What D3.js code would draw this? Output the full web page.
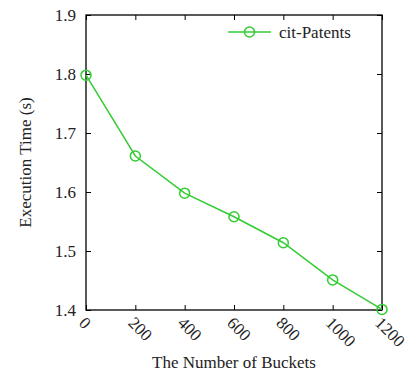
<!DOCTYPE html>
<html>
<head>
<meta charset="utf-8">
<script src="https://cdn.jsdelivr.net/npm/d3@7"></script>
<style>
  body { margin: 0; background: #fff; }
  text { font-family: "Liberation Serif", "DejaVu Serif", serif; fill: #222; }
</style>
</head>
<body>
<div id="plot"></div>
<script>
const WIDTH = 411;
const HEIGHT = 372;

const buckets = [0, 200, 400, 600, 800, 1000, 1200];
const execTime = [1.798, 1.661, 1.598, 1.558, 1.514, 1.451, 1.401];
const yTicks = [1.4, 1.5, 1.6, 1.7, 1.8, 1.9];
const seriesName = 'cit-Patents';

const margin = {left: 86, right: 29, top: 15, bottom: 62};
const innerW = WIDTH - margin.left - margin.right;
const innerH = HEIGHT - margin.top - margin.bottom;
const GREEN = '#33cc33';
const TICK = 5;
const FONT = '17px';

var svg = d3.select('#plot')
    .append('svg')
    .attr('width', WIDTH)
    .attr('height', HEIGHT);

var g = svg.append('g')
    .attr('transform', `translate(${margin.left},${margin.top})`);

let x = d3.scaleLinear().domain([0, 1200]).range([0, innerW]);
let y = d3.scaleLinear().domain([1.4, 1.9]).range([innerH, 0]);

// inward ticks on all four sides
let tickStyle = sel => sel.selectAll('line').attr('stroke', '#000');

g.append('g')
    .attr('transform', `translate(0,${innerH})`)
    .call(d3.axisBottom(x).tickValues(buckets).tickSize(-TICK).tickFormat(''))
    .call(a => a.select('.domain').remove())
    .call(tickStyle);
g.append('g')
    .call(d3.axisTop(x).tickValues(buckets).tickSize(-TICK).tickFormat(''))
    .call(a => a.select('.domain').remove())
    .call(tickStyle);
g.append('g')
    .call(d3.axisLeft(y).tickValues(yTicks).tickSize(-TICK).tickFormat(''))
    .call(a => a.select('.domain').remove())
    .call(tickStyle);
g.append('g')
    .attr('transform', `translate(${innerW},0)`)
    .call(d3.axisRight(y).tickValues(yTicks).tickSize(-TICK).tickFormat(''))
    .call(a => a.select('.domain').remove())
    .call(tickStyle);

// y labels
g.selectAll('.ylab')
    .data(yTicks)
    .enter()
    .append('text')
    .attr('x', -10)
    .attr('y', d => y(d))
    .attr('dy', '0.35em')
    .attr('text-anchor', 'end')
    .style('font-size', FONT)
    .text(d => d.toFixed(1));

// x labels, rotated
g.selectAll('.xlab')
    .data(buckets)
    .enter()
    .append('text')
    .attr('transform', d => `translate(${x(d) + 1},${innerH + 5}) rotate(45)`)
    .attr('dy', '0.75em')
    .attr('text-anchor', 'start')
    .style('font-size', FONT)
    .text(d => d);

// frame
g.append('rect')
    .attr('width', innerW)
    .attr('height', innerH)
    .attr('fill', 'none')
    .attr('stroke', '#000')
    .attr('stroke-width', 1.3);

// series
let line = d3.line()
    .x((d, i) => x(buckets[i]))
    .y(d => y(d));

g.append('path')
    .datum(execTime)
    .attr('d', line)
    .attr('fill', 'none')
    .attr('stroke', GREEN)
    .attr('stroke-width', 1.5);

g.selectAll('.pt')
    .data(execTime)
    .enter()
    .append('circle')
    .attr('cx', (d, i) => x(buckets[i]))
    .attr('cy', d => y(d))
    .attr('r', 5)
    .attr('fill', 'none')
    .attr('stroke', GREEN)
    .attr('stroke-width', 1.5);

// legend
let lg = svg.append('g').attr('transform', 'translate(228,32)');
lg.append('line')
    .attr('x1', 0).attr('x2', 43)
    .attr('stroke', GREEN).attr('stroke-width', 1.5);
lg.append('circle')
    .attr('cx', 21.5).attr('r', 5)
    .attr('fill', 'none').attr('stroke', GREEN).attr('stroke-width', 1.5);
lg.append('text')
    .attr('x', 51)
    .attr('dy', '0.35em')
    .style('font-size', FONT)
    .text(seriesName);

// axis titles
svg.append('text')
    .attr('x', margin.left + innerW / 2)
    .attr('y', 368)
    .attr('text-anchor', 'middle')
    .style('font-size', FONT)
    .text('The Number of Buckets');

svg.append('text')
    .attr('transform', `translate(31,${margin.top + innerH / 2}) rotate(-90)`)
    .attr('text-anchor', 'middle')
    .style('font-size', FONT)
    .text('Execution Time (s)');
</script>
</body>
</html>
